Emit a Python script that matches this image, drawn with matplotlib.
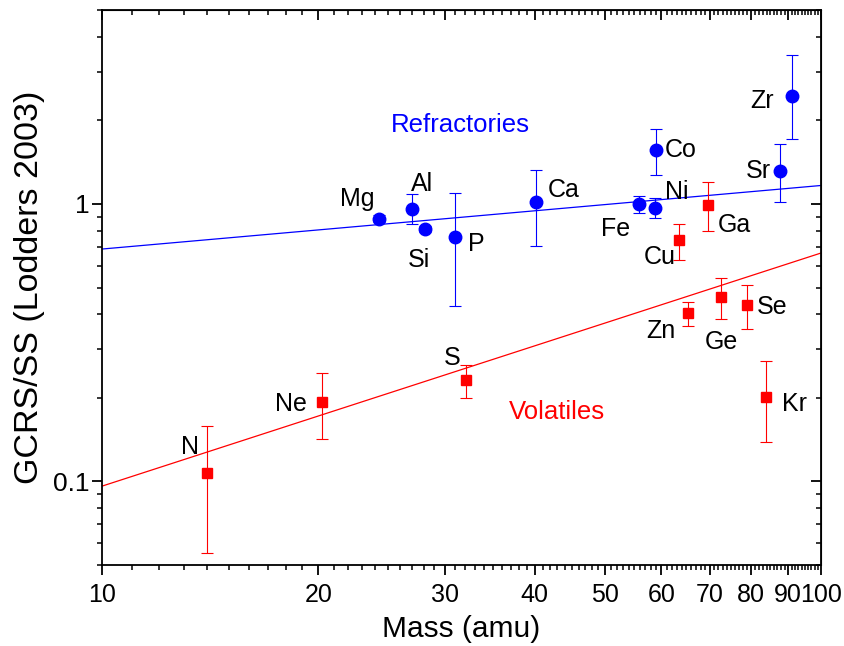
import numpy as np
import matplotlib.pyplot as plt
from matplotlib.ticker import LogLocator, FixedLocator, NullFormatter

plt.rcParams['font.family'] = ['Liberation Sans', 'DejaVu Sans']

# refractories (blue circles)
ref_el = ['Mg', 'Al', 'Si', 'P', 'Ca', 'Fe', 'Ni', 'Co', 'Sr', 'Zr']
ref_mass = [24.3, 27.0, 28.1, 31.0, 40.1, 55.9, 58.7, 58.9, 87.6, 91.2]
ref_val = [0.885, 0.962, 0.812, 0.762, 1.02, 1.00, 0.965, 1.57, 1.31, 2.44]
ref_hi = [0.91, 1.083, 0.835, 1.092, 1.331, 1.068, 1.048, 1.862, 1.65, 3.44]
ref_lo = [0.86, 0.846, 0.79, 0.429, 0.703, 0.926, 0.889, 1.27, 1.014, 1.72]

# volatiles (red squares)
vol_el = ['N', 'Ne', 'S', 'Cu', 'Zn', 'Ga', 'Ge', 'Se', 'Kr']
vol_mass = [14.0, 20.2, 32.1, 63.5, 65.4, 69.7, 72.6, 79.0, 83.8]
vol_val = [0.107, 0.194, 0.232, 0.741, 0.404, 0.99, 0.4615, 0.431, 0.201]
vol_hi = [0.159, 0.245, 0.262, 0.850, 0.445, 1.199, 0.540, 0.511, 0.272]
vol_lo = [0.0551, 0.1426, 0.1995, 0.628, 0.362, 0.796, 0.386, 0.355, 0.1388]

# power-law fits: value = amp * (mass/10)**slope
ref_fit = (0.688, 0.229)
vol_fit = (0.0962, 0.840)

# label offsets in points (dx, dy)
ref_off = {'Mg': (-16, 14), 'Al': (7, 18), 'Si': (-4, -22), 'P': (15, -5),
           'Ca': (20, 8), 'Fe': (-17, -18), 'Ni': (16, 12), 'Co': (18, 0),
           'Sr': (-15, 0), 'Zr': (-22, -3)}
vol_off = {'N': (-12, 19), 'Ne': (-22, -2), 'S': (-10, 16), 'Cu': (-14, -12),
           'Zn': (-20, -13), 'Ga': (19, -14), 'Ge': (0, -32), 'Se': (18, -1),
           'Kr': (21, -5)}

fig = plt.figure(figsize=(8.44, 6.46), dpi=100)
ax = fig.add_axes([0.1209, 0.1254, 0.8518, 0.8591])
ax.set_xscale('log')
ax.set_yscale('log')
ax.set_xlim(10, 100)
ax.set_ylim(0.05, 5)

xs = np.array([10, 100])
ax.plot(xs, ref_fit[0] * (xs / 10) ** ref_fit[1], color='blue', lw=0.9)
ax.plot(xs, vol_fit[0] * (xs / 10) ** vol_fit[1], color='red', lw=0.9)

rv = np.array(ref_val)
ax.errorbar(ref_mass, rv, yerr=[rv - np.array(ref_lo), np.array(ref_hi) - rv],
            fmt='o', color='blue', ms=9, capsize=4, elinewidth=0.8, capthick=0.8)
vv = np.array(vol_val)
ax.errorbar(vol_mass, vv, yerr=[vv - np.array(vol_lo), np.array(vol_hi) - vv],
            fmt='s', color='red', ms=7.5, capsize=4, elinewidth=0.8, capthick=0.8)

for el, m, v in zip(ref_el, ref_mass, ref_val):
    ax.annotate(el, (m, v), xytext=ref_off[el], textcoords='offset points',
                ha='center', va='center', fontsize=18)
for el, m, v in zip(vol_el, vol_mass, vol_val):
    ax.annotate(el, (m, v), xytext=vol_off[el], textcoords='offset points',
                ha='center', va='center', fontsize=18)

ax.text(31.5, 1.93, 'Refractories', color='blue', fontsize=18.5, ha='center', va='center')
ax.text(42.9, 0.178, 'Volatiles', color='red', fontsize=18.5, ha='center', va='center')

xmaj = [10, 20, 30, 40, 50, 60, 70, 80, 90, 100]
xmin = [m for m in range(11, 100) if m % 10]
ax.xaxis.set_major_locator(FixedLocator(xmaj))
ax.xaxis.set_minor_locator(FixedLocator(xmin))
ax.set_xticklabels([str(x) for x in xmaj])
ax.xaxis.set_minor_formatter(NullFormatter())
ax.yaxis.set_major_locator(FixedLocator([0.1, 1]))
ax.set_yticklabels(['0.1', '1'])
ax.yaxis.set_minor_locator(LogLocator(base=10, subs=np.arange(2, 10)))
ax.yaxis.set_minor_formatter(NullFormatter())

ax.tick_params(which='major', direction='out', length=7, width=1.3)
ax.tick_params(axis='x', which='major', pad=6, labelsize=18)
ax.tick_params(axis='y', which='major', pad=2, labelsize=19)
ax.tick_params(which='minor', direction='out', length=3.5, width=1.1)
for s in ax.spines.values():
    s.set_linewidth(1.3)

# mirrored ticks pointing inward on top and right
top = ax.secondary_xaxis('top')
top.xaxis.set_major_locator(FixedLocator(xmaj))
top.xaxis.set_minor_locator(FixedLocator(xmin))
top.xaxis.set_major_formatter(NullFormatter())
top.xaxis.set_minor_formatter(NullFormatter())
top.tick_params(which='major', direction='in', length=7, width=1.3)
top.tick_params(which='minor', direction='in', length=3.5, width=1.1)
right = ax.secondary_yaxis('right')
right.yaxis.set_major_locator(FixedLocator([0.1, 1]))
right.yaxis.set_minor_locator(LogLocator(base=10, subs=np.arange(2, 10)))
right.yaxis.set_major_formatter(NullFormatter())
right.yaxis.set_minor_formatter(NullFormatter())
right.tick_params(which='major', direction='in', length=7, width=1.3)
right.tick_params(which='minor', direction='in', length=3.5, width=1.1)

ax.set_xlabel('Mass (amu)', fontsize=21.5, labelpad=6)
ax.set_ylabel('GCRS/SS (Lodders 2003)', fontsize=24.5, labelpad=6)

fig.savefig('out.png', dpi=100)
